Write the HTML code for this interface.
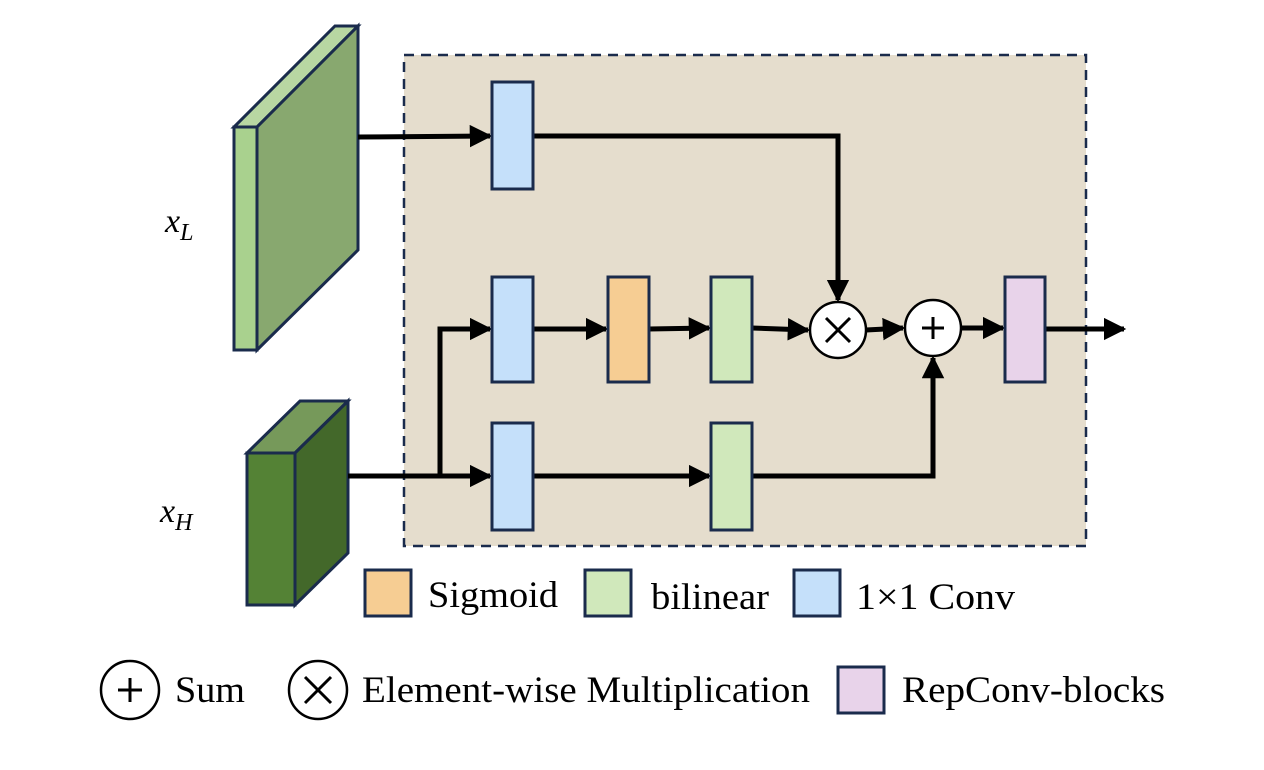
<!DOCTYPE html><html><head><meta charset="utf-8"><style>body{margin:0;background:#fff}svg{display:block}text{font-family:"Liberation Serif",serif;fill:#000}</style></head><body>
<svg width="1264" height="770" viewBox="0 0 1264 770" xmlns="http://www.w3.org/2000/svg">
<defs><marker id="a" viewBox="0 0 10 10" refX="9" refY="5" markerWidth="4.5" markerHeight="4.5" orient="auto"><path d="M0,0L10,5L0,10z" fill="#000"/></marker></defs>
<rect x="404" y="55" width="682" height="491" fill="#e5ddcd" stroke="#1a2b4c" stroke-width="2.5" stroke-dasharray="10,7"/>
<g stroke="#1a2b4c" stroke-width="3" stroke-linejoin="miter">
<polygon points="234,127 257,127 358,26 335,26" fill="#b8d7a2"/>
<polygon points="257,127 358,26 358,250 257,350" fill="#88a86f"/>
<rect x="234" y="127" width="23" height="223" fill="#a9d18e"/>
<polygon points="247,453 295,453 348,401 300,401" fill="#76995a"/>
<polygon points="295,453 348,401 348,553 295,605" fill="#43682a"/>
<rect x="247" y="453" width="48" height="152" fill="#548235"/>
</g>
<g stroke="#000" stroke-width="5" fill="none">
<line x1="358" y1="137" x2="490" y2="136" marker-end="url(#a)"/>
<polyline points="533,136 838,136 838,300" marker-end="url(#a)"/>
<line x1="348" y1="476" x2="490" y2="476" marker-end="url(#a)"/>
<polyline points="440,476 440,329 490,329" marker-end="url(#a)"/>
<line x1="533" y1="329" x2="606" y2="329" marker-end="url(#a)"/>
<line x1="649" y1="329" x2="709" y2="328" marker-end="url(#a)"/>
<line x1="752" y1="328" x2="808" y2="330" marker-end="url(#a)"/>
<line x1="866" y1="330" x2="903" y2="328" marker-end="url(#a)"/>
<line x1="961" y1="328" x2="1003" y2="328" marker-end="url(#a)"/>
<line x1="1045" y1="329" x2="1124" y2="329" marker-end="url(#a)"/>
<line x1="533" y1="476" x2="709" y2="476" marker-end="url(#a)"/>
<polyline points="752,476 933,476 933,358" marker-end="url(#a)"/>
</g>
<g stroke="#1a2b4c" stroke-width="3">
<rect x="492" y="82" width="41" height="107" fill="#c5e0fa"/>
<rect x="492" y="277" width="41" height="105" fill="#c5e0fa"/>
<rect x="608" y="277" width="41" height="105" fill="#f6cd93"/>
<rect x="711" y="277" width="41" height="105" fill="#d0e8bb"/>
<rect x="492" y="423" width="41" height="107" fill="#c5e0fa"/>
<rect x="711" y="423" width="41" height="107" fill="#d0e8bb"/>
<rect x="1005" y="277" width="40" height="105" fill="#e8d3ea"/>
<rect x="365" y="570" width="46" height="46" fill="#f6cd93"/>
<rect x="585" y="570" width="46" height="46" fill="#d0e8bb"/>
<rect x="794" y="570" width="46" height="46" fill="#c5e0fa"/>
<rect x="838" y="667" width="46" height="46" fill="#e8d3ea"/>
</g>
<g stroke="#000" stroke-width="2.5" fill="#fff">
<circle cx="838" cy="330" r="28"/><circle cx="933" cy="328" r="28"/>
<circle cx="130" cy="690" r="29"/><circle cx="318" cy="690" r="29"/>
</g>
<g stroke="#000" stroke-width="3">
<line x1="826" y1="318" x2="850" y2="342"/><line x1="850" y1="318" x2="826" y2="342"/>
<line x1="933" y1="317" x2="933" y2="339"/><line x1="922" y1="328" x2="944" y2="328"/>
<line x1="130" y1="678" x2="130" y2="702"/><line x1="118" y1="690" x2="142" y2="690"/>
<line x1="305" y1="677" x2="331" y2="703"/><line x1="331" y1="677" x2="305" y2="703"/>
</g>
<text x="165" y="232" font-size="34" font-style="italic">x<tspan font-size="24" dy="8">L</tspan></text>
<text x="160" y="522" font-size="34" font-style="italic">x<tspan font-size="24" dy="8">H</tspan></text>
<g font-size="37">
<text x="428" y="607" textLength="130" lengthAdjust="spacingAndGlyphs">Sigmoid</text>
<text x="651" y="609" textLength="118" lengthAdjust="spacingAndGlyphs">bilinear</text>
<text x="856" y="609" textLength="159" lengthAdjust="spacingAndGlyphs">1×1 Conv</text>
<text x="175" y="702" textLength="70" lengthAdjust="spacingAndGlyphs">Sum</text>
<text x="362" y="702" textLength="448" lengthAdjust="spacingAndGlyphs">Element-wise Multiplication</text>
<text x="902" y="702" textLength="263" lengthAdjust="spacingAndGlyphs">RepConv-blocks</text>
</g>
</svg></body></html>
